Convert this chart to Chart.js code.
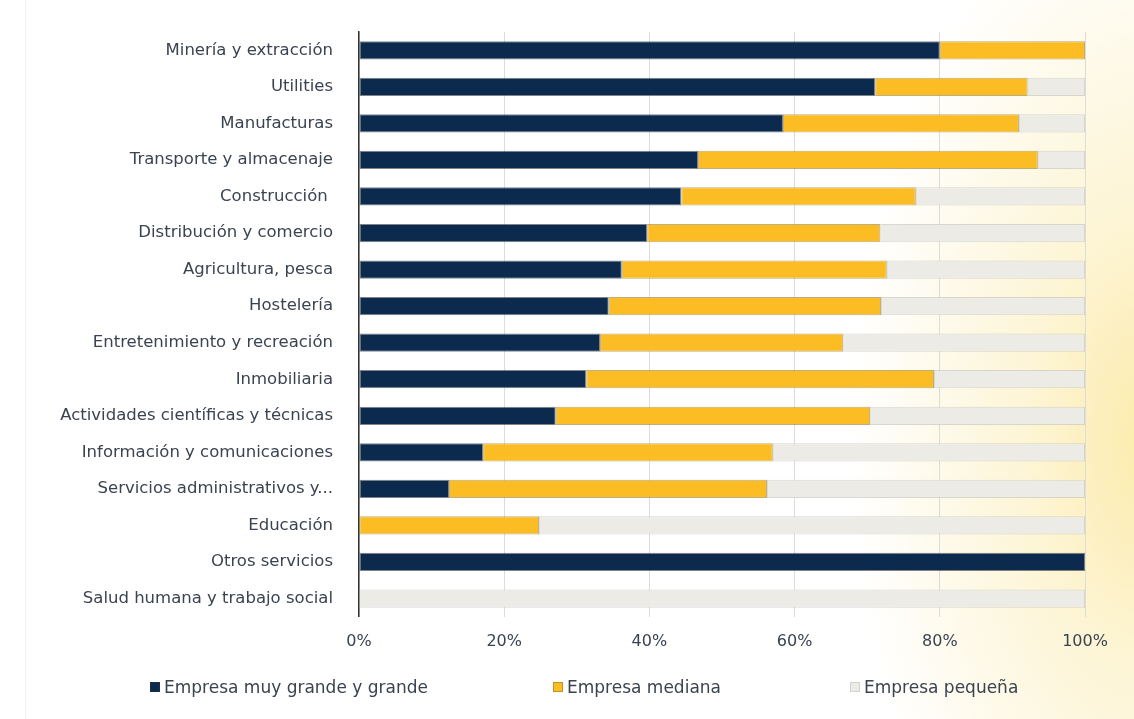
<!DOCTYPE html>
<html>
<head>
<meta charset="utf-8">
<script src="https://cdn.jsdelivr.net/npm/chart.js@4.4.0/dist/chart.umd.min.js"></script>
<style>
  html, body { margin: 0; padding: 0; }
  body {
    width: 1134px; height: 719px; overflow: hidden; position: relative;
    background: radial-gradient(ellipse 300px 560px at 1150px 440px, #fcebab 0%, #fdf5d6 42%, #ffffff 100%);
  }
  #wrap { position: absolute; left: 0; top: 0; width: 1134px; height: 719px; }
  #frame { position: absolute; left: 25px; top: 0; width: 1px; height: 719px; background: #f2f2f0; }
  #legend {
    position: absolute; left: 0; top: 676px; width: 1134px; height: 24px;
    font-family: 'DejaVu Sans', sans-serif; font-size: 17px; color: #3a4350;
  }
  #legend .item { position: absolute; top: 0; white-space: nowrap; line-height: 22px; }
  #legend .box { display: inline-block; width: 10px; height: 10px; margin-right: 4px; vertical-align: 1px; box-sizing: border-box; }
</style>
</head>
<body>
<div id="frame"></div>
<div id="wrap"><canvas id="chart"></canvas></div>
<div id="legend"></div>
<script>
// Sectors and share of companies by size (percent)
const categories = [
  'Minería y extracción', 'Utilities', 'Manufacturas', 'Transporte y almacenaje',
  'Construcción ', 'Distribución y comercio', 'Agricultura, pesca', 'Hostelería',
  'Entretenimiento y recreación', 'Inmobiliaria', 'Actividades científicas y técnicas',
  'Información y comunicaciones', 'Servicios administrativos y...', 'Educación',
  'Otros servicios', 'Salud humana y trabajo social'
];
const grande  = [80.0, 71.1, 58.4, 46.7, 44.4, 39.7, 36.2, 34.4, 33.2, 31.3, 27.1, 17.1, 12.4, 0, 100, 0];
const mediana = [20.0, 21.0, 32.5, 46.8, 32.3, 32.1, 36.5, 37.5, 33.5, 47.9, 43.3, 39.9, 43.8, 24.8, 0, 0];
const pequena = [0, 7.9, 9.1, 6.5, 23.3, 28.2, 27.3, 28.1, 33.3, 20.8, 29.6, 43.0, 43.8, 75.2, 0, 100];
const seriesNames = ['Empresa muy grande y grande', 'Empresa mediana', 'Empresa pequeña'];
const xTicks = [0, 20, 40, 60, 80, 100];

const FONT = "'DejaVu Sans', sans-serif";
const TEXT = '#3a4350';

const barStyle = { borderWidth: 1, borderSkipped: false, barPercentage: 0.5, categoryPercentage: 1.0 };

const chart = new Chart(document.getElementById('chart'), {
  type: 'bar',
  data: {
    labels: categories,
    datasets: [
      { label: seriesNames[0], data: grande, backgroundColor: '#0b2a4d', borderColor: 'rgba(40,50,60,0.6)', ...barStyle },
      { label: seriesNames[1], data: mediana, backgroundColor: '#fbbd23', borderColor: 'rgba(150,120,40,0.6)', ...barStyle },
      { label: seriesNames[2], data: pequena, backgroundColor: '#ecebe6', borderColor: 'rgba(200,200,195,0.7)', ...barStyle }
    ]
  },
  options: {
    indexAxis: 'y',
    responsive: true,
    maintainAspectRatio: false,
    animation: false,
    layout: { padding: { left: 0, right: 49, top: 32, bottom: 53 } },
    scales: {
      x: {
        stacked: true, min: 0, max: 100,
        afterBuildTicks: s => { s.ticks = xTicks.map(v => ({ value: v })); },
        ticks: { callback: v => v + '%', color: TEXT, font: { family: FONT, size: 16 }, padding: 15 },
        grid: { color: '#dcdcd8', drawTicks: false },
        border: { display: false }
      },
      y: {
        stacked: true,
        afterFit: s => { s.width = 359; },
        ticks: { color: TEXT, font: { family: FONT, size: 16.5 }, padding: 18 },
        grid: { display: false },
        border: { display: true, color: '#333333', width: 1.5 }
      }
    },
    plugins: {
      legend: { display: false },
      tooltip: { enabled: false }
    }
  }
});

// HTML legend built from the datasets (spaced like the source)
const legendX = [150, 553, 850];
const legendEl = document.getElementById('legend');
chart.data.datasets.forEach((ds, i) => {
  const item = document.createElement('span');
  item.className = 'item';
  item.style.left = legendX[i] + 'px';
  const box = document.createElement('span');
  box.className = 'box';
  box.style.background = ds.backgroundColor;
  box.style.border = '1px solid ' + ds.borderColor;
  item.appendChild(box);
  item.appendChild(document.createTextNode(ds.label));
  legendEl.appendChild(item);
});
</script>
</body>
</html>
